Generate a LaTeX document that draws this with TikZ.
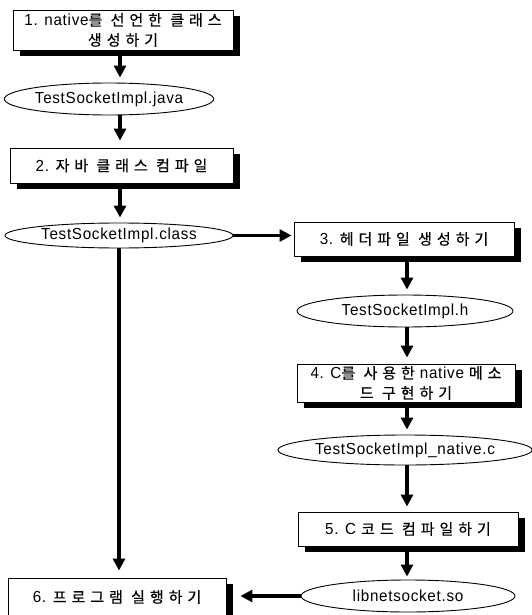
\documentclass[tikz,border=0pt]{standalone}
\usepackage{fontspec}
\setmainfont{Liberation Sans}[LetterSpace=4.5, FakeStretch=0.95]
\newfontfamily\krf{Noto Sans CJK KR}[LetterSpace=33, FakeBold=0.5]
\newcommand\kr[1]{{\krf\fontsize{15}{20}\selectfont #1}}
\usetikzlibrary{arrows.meta,shapes.geometric,shadows,calc}
\begin{document}
\begin{tikzpicture}[x=1pt,y=-1pt,
  stepbox/.style={draw=black, line width=0.9pt, fill=white, inner sep=2pt,
    font=\fontsize{16}{20}\selectfont,
    drop shadow={shadow xshift=7pt, shadow yshift=-6pt, fill=black, opacity=1}},
  filebox/.style={ellipse, draw=black, line width=0.9pt, fill=white, inner sep=0pt,
    font=\fontsize{16}{20}\selectfont},
  flow/.style={line width=3.2pt, -{Triangle[length=12pt,width=12pt]}}]
\useasboundingbox (0,0) rectangle (532,615);
\fill[white] (0,0) rectangle (532,615);
% nodes
\node[stepbox, minimum width=220pt, minimum height=40pt, align=center] (b1) at (123,30)
  {1. native\kr{를 선언한 클래스}\\\kr{생성하기}};
\node[filebox, minimum width=188pt, minimum height=32pt] (e1) at (109,99) {TestSocketImpl.java};
\node[stepbox, minimum width=223pt, minimum height=35pt] (b2) at (121.5,165.5) {2. \kr{자바 클래스 컴파일}};
\node[filebox, minimum width=228pt, minimum height=25pt] (e2) at (119,235.5) {TestSocketImpl.class};
\node[stepbox, minimum width=220pt, minimum height=34pt] (b3) at (404,239) {3. \kr{헤더파일 생성하기}};
\node[filebox, minimum width=216pt, minimum height=32pt] (e3) at (405,311) {TestSocketImpl.h};
\node[stepbox, minimum width=218pt, minimum height=38pt, align=center] (b4) at (406,383)
  {4. C\kr{를 사용한} native \kr{메소}\\\kr{드 구현하기}};
\node[filebox, minimum width=230pt, minimum height=30pt] (e4) at (405,450) {TestSocketImpl\_native.c};
\node[stepbox, minimum width=220pt, minimum height=34pt] (b5) at (408,529) {5. C \kr{코드 컴파일하기}};
\node[filebox, minimum width=214pt, minimum height=32pt] (e5) at (408,596) {libnetsocket.so};
\node[stepbox, minimum width=218pt, minimum height=38pt] (b6) at (117,597) {6. \kr{프로그램 실행하기}};
% connectors
\draw[flow] ($(b1.south)+(-3,6)$) -- ($(b1.south |- e1.north)+(-3,-5)$);
\draw[flow] ($(e1.south -| b1.south)+(-3,0)$) -- ($(b2.north)+(-1.5,-7)$);
\draw[flow] ($(b2.south)+(-1.5,6)$) -- ($(b2.south |- e2.north)+(-1.5,-5)$);
\draw[flow] (e2.east) -- ($(e2.east -| b3.west)+(-2,0)$);
\draw[flow] ($(b3.south)+(3,6)$) -- ($(b3.south |- e3.north)+(3,-5)$);
\draw[flow] ($(e3.south -| b4.north)+(1,0)$) -- ($(b4.north)+(1,-6)$);
\draw[flow] ($(b4.south)+(1,6)$) -- ($(b4.south |- e4.north)+(1,-5)$);
\draw[flow] ($(e4.south -| b5.north)+(-1,0)$) -- ($(b5.north)+(-1,-5)$);
\draw[flow] ($(b5.south)+(-1,6)$) -- ($(b5.south |- e5.north)+(-1,-3)$);
\draw[flow] (e5.west) -- ($(e5.west -| b6.east)+(14,0)$);
\draw[flow] (e2.south) -- ($(e2.south |- b6.north)+(0,-7)$);
\end{tikzpicture}
\end{document}
